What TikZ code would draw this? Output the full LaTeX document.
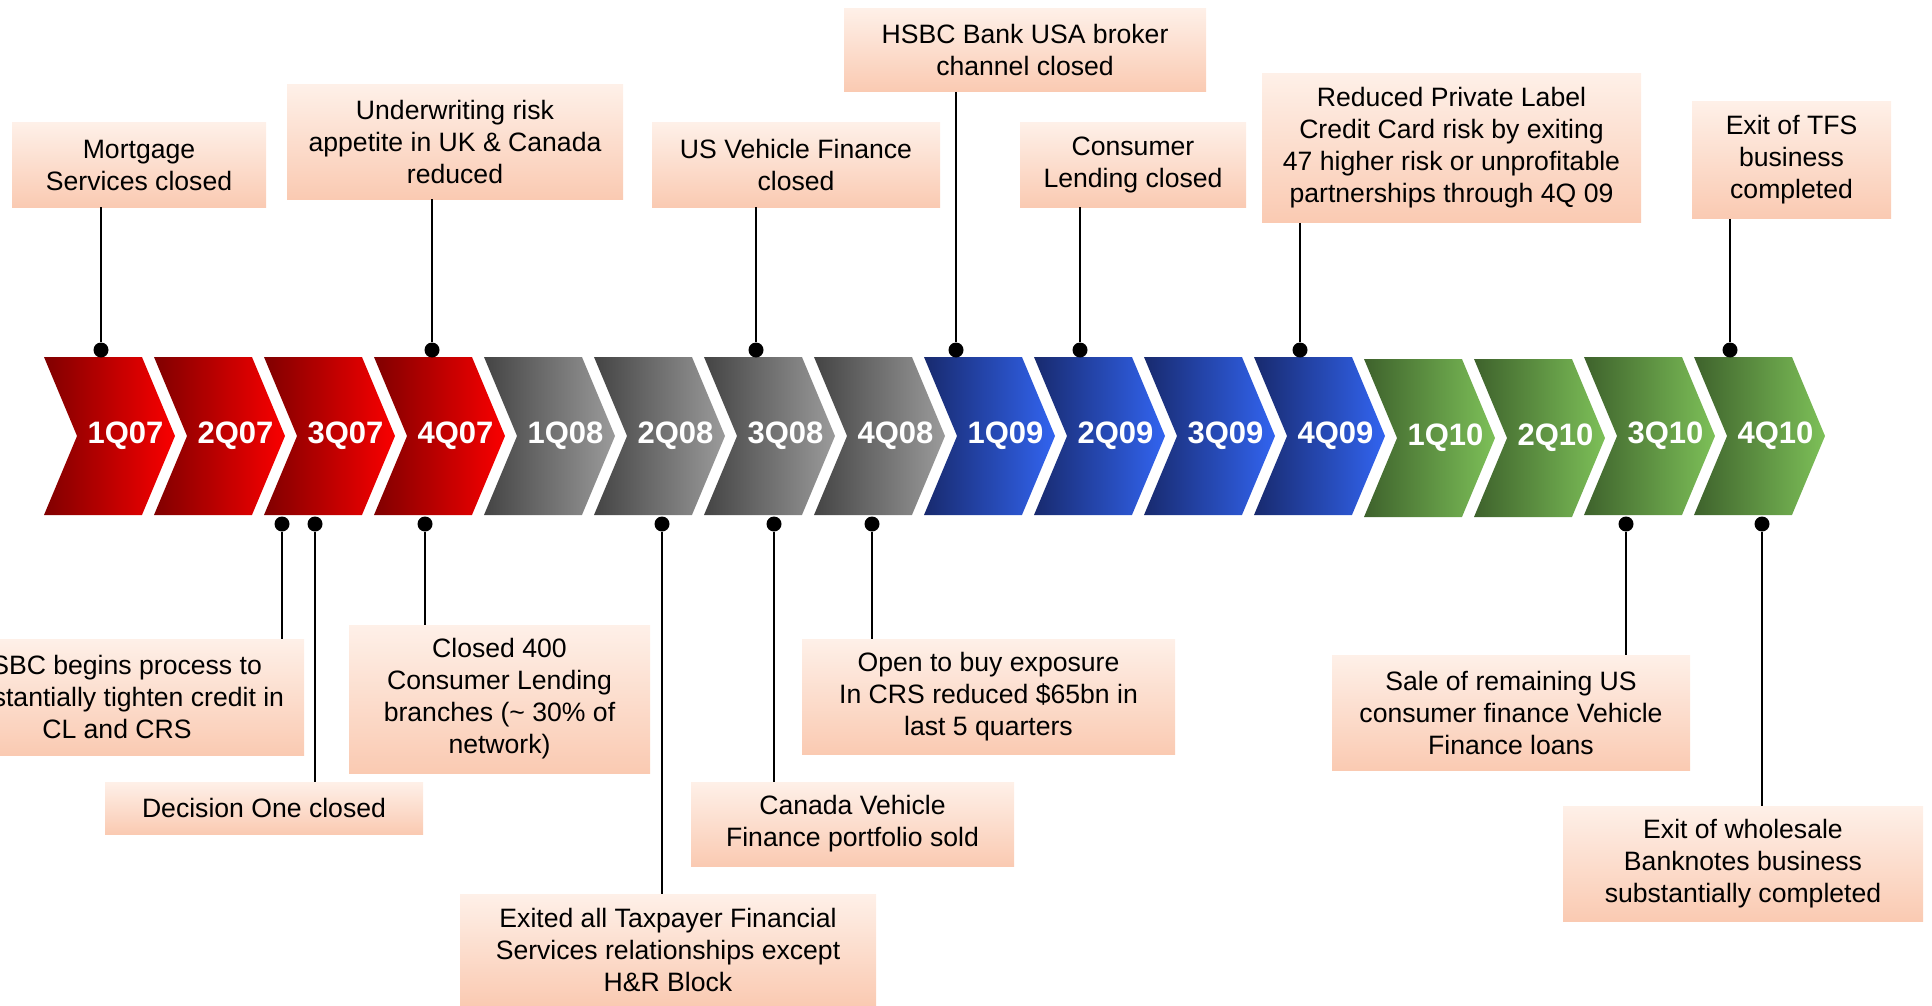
\documentclass[tikz,border=0pt]{standalone}
\usepackage{fontspec}
\setmainfont{Liberation Sans}
\usepackage{tikz}
\usetikzlibrary{shapes.symbols, positioning}
\definecolor{redL}{RGB}{128,0,0}
\definecolor{redR}{RGB}{250,0,0}
\definecolor{grayL}{RGB}{68,68,68}
\definecolor{grayR}{RGB}{155,155,155}
\definecolor{blueL}{RGB}{24,42,110}
\definecolor{blueR}{RGB}{50,100,240}
\definecolor{greenL}{RGB}{62,98,44}
\definecolor{greenR}{RGB}{125,192,88}
\definecolor{peachT}{RGB}{254,240,232}
\definecolor{peachB}{RGB}{250,202,178}
\tikzstyle{quarter} = [shape=signal, signal from=west, signal to=east, signal pointer angle=134.6, minimum width=65.5pt, minimum height=79pt, inner sep=0pt, outer sep=0pt]
\tikzstyle{qred} = [quarter, left color=redL, right color=redR]
\tikzstyle{qgray} = [quarter, left color=grayL, right color=grayR]
\tikzstyle{qblue} = [quarter, left color=blueL, right color=blueR]
\tikzstyle{qgreen} = [quarter, left color=greenL, right color=greenR]
\tikzstyle{qlabel} = [text=white, font=\fontsize{15.5}{18}\selectfont\bfseries, xshift=8pt]
\tikzstyle{note} = [top color=peachT, bottom color=peachB, align=center, font=\fontsize{13.3}{16}\selectfont, inner sep=0pt]
\tikzstyle{knob} = [circle, fill=black, inner sep=0pt, minimum size=7.5pt]
\tikzstyle{stem} = [line width=1.4pt]

\begin{document}
\begin{tikzpicture}[x=0.5pt, y=-0.5pt]
      \useasboundingbox (0,0) rectangle (1932,1006);
      \clip (0,0) rectangle (1932,1006);

      % quarters
      \node[qred] (q1) at (109.5,436) [label={[qlabel]center:1Q07}] {};
      \node[qred] (q2) at (219.5,436) [label={[qlabel]center:2Q07}] {};
      \node[qred] (q3) at (329.5,436) [label={[qlabel]center:3Q07}] {};
      \node[qred] (q4) at (439.5,436) [label={[qlabel]center:4Q07}] {};
      \node[qgray] (q5) at (549.5,436) [label={[qlabel]center:1Q08}] {};
      \node[qgray] (q6) at (659.5,436) [label={[qlabel]center:2Q08}] {};
      \node[qgray] (q7) at (769.5,436) [label={[qlabel]center:3Q08}] {};
      \node[qgray] (q8) at (879.5,436) [label={[qlabel]center:4Q08}] {};
      \node[qblue] (q9) at (989.5,436) [label={[qlabel]center:1Q09}] {};
      \node[qblue] (q10) at (1099.5,436) [label={[qlabel]center:2Q09}] {};
      \node[qblue] (q11) at (1209.5,436) [label={[qlabel]center:3Q09}] {};
      \node[qblue] (q12) at (1319.5,436) [label={[qlabel]center:4Q09}] {};
      \node[qgreen] (q13) at (1429.5,438) [label={[qlabel]center:1Q10}] {};
      \node[qgreen] (q14) at (1539.5,438) [label={[qlabel]center:2Q10}] {};
      \node[qgreen] (q15) at (1649.5,436) [label={[qlabel]center:3Q10}] {};
      \node[qgreen] (q16) at (1759.5,436) [label={[qlabel]center:4Q10}] {};

      % events above
      \node[note, minimum width=127pt, minimum height=42pt] (mort) at (139,165) {Mortgage\\Services closed};
      \node[note, minimum width=168pt, minimum height=57pt] (under) at (455,142) {Underwriting risk\\appetite in UK \& Canada\\reduced};
      \node[note, minimum width=144pt, minimum height=42pt] (usveh) at (796,165) {US Vehicle Finance\\closed};
      \node[note, minimum width=181pt, minimum height=41.5pt] (hsbcusa) at (1025,50) {HSBC Bank USA broker\\channel closed};
      \node[note, minimum width=113pt, minimum height=42pt] (conslend) at (1133,165) {Consumer\\Lending closed};
      \node[note, minimum width=189.5pt, minimum height=74.5pt] (reduced) at (1451.5,148) {Reduced Private Label\\Credit Card risk by exiting\\47 higher risk or unprofitable\\partnerships through 4Q 09};
      \node[note, minimum width=99.5pt, minimum height=58.5pt] (tfs) at (1791.5,160) {Exit of TFS\\business\\completed};

      % events below
      \node[note, minimum width=187pt, minimum height=58pt] (tighten) at (117,697) {HSBC begins process to\\substantially tighten credit in\\CL and CRS};
      \node[note, minimum width=159pt, minimum height=26pt] (decone) at (264,808) {Decision One closed};
      \node[note, minimum width=150.5pt, minimum height=74pt] (closed) at (499.5,699) {Closed 400\\Consumer Lending\\branches (\textasciitilde{} 30\% of\\network)};
      \node[note, minimum width=208pt, minimum height=55.5pt] (taxpayer) at (668,950) {Exited all Taxpayer Financial\\Services relationships except\\H\&R Block};
      \node[note, minimum width=161.5pt, minimum height=42pt] (canveh) at (852.5,824) {Canada Vehicle\\Finance portfolio sold};
      \node[note, minimum width=186.5pt, minimum height=57.5pt] (opentobuy) at (988.5,696.5) {Open to buy exposure\\In CRS reduced \$65bn in\\last 5 quarters};
      \node[note, minimum width=179pt, minimum height=57.5pt] (sale) at (1511,712.5) {Sale of remaining US\\consumer finance Vehicle\\Finance loans};
      \node[note, minimum width=180pt, minimum height=57.5pt] (wholesale) at (1743,863.5) {Exit of wholesale\\Banknotes business\\substantially completed};

      % dots
      \node[knob] (dmort) at (101,350) {};
      \node[knob] (dunder) at (432,350) {};
      \node[knob] (dusveh) at (756,350) {};
      \node[knob] (dhsbcusa) at (956,350) {};
      \node[knob] (dconslend) at (1080,350) {};
      \node[knob] (dreduced) at (1300,350) {};
      \node[knob] (dtfs) at (1730,350) {};
      \node[knob] (dtighten) at (282,524) {};
      \node[knob] (ddecone) at (315,524) {};
      \node[knob] (dclosed) at (425,524) {};
      \node[knob] (dtaxpayer) at (662,524) {};
      \node[knob] (dcanveh) at (774,524) {};
      \node[knob] (dopen) at (872,524) {};
      \node[knob] (dsale) at (1626,524) {};
      \node[knob] (dwholesale) at (1762,524) {};

      \draw[stem] (mort.south -| dmort) -- (dmort);
      \draw[stem] (under.south -| dunder) -- (dunder);
      \draw[stem] (usveh.south -| dusveh) -- (dusveh);
      \draw[stem] (hsbcusa.south -| dhsbcusa) -- (dhsbcusa);
      \draw[stem] (conslend.south -| dconslend) -- (dconslend);
      \draw[stem] (reduced.south -| dreduced) -- (dreduced);
      \draw[stem] (tfs.south -| dtfs) -- (dtfs);
      \draw[stem] (dtighten) -- (tighten.north -| dtighten);
      \draw[stem] (ddecone) -- (decone.north -| ddecone);
      \draw[stem] (dclosed) -- (closed.north -| dclosed);
      \draw[stem] (dtaxpayer) -- (taxpayer.north -| dtaxpayer);
      \draw[stem] (dcanveh) -- (canveh.north -| dcanveh);
      \draw[stem] (dopen) -- (opentobuy.north -| dopen);
      \draw[stem] (dsale) -- (sale.north -| dsale);
      \draw[stem] (dwholesale) -- (wholesale.north -| dwholesale);
    \end{tikzpicture}
\end{document}
